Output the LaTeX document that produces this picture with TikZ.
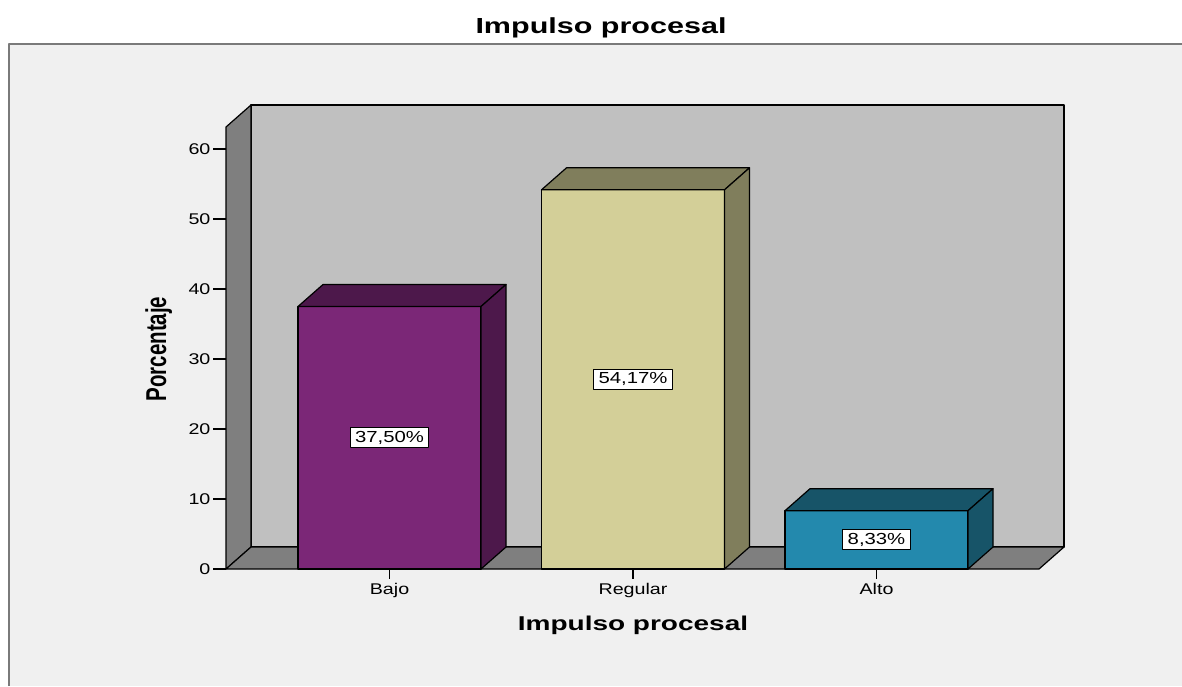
\documentclass[tikz,border=0pt]{standalone}
\usepackage{fontspec}
\setmainfont{Liberation Sans}[FakeStretch=1.4]
\newfontfamily\plainfont{Liberation Sans}
\newfontfamily\tickfont{Liberation Sans}[FakeStretch=1.27]
\definecolor{chartbg}{HTML}{F0F0F0}
\definecolor{frameline}{HTML}{7A7A7A}
\definecolor{wallback}{HTML}{C0C0C0}
\definecolor{wallside}{HTML}{7F7F7F}
\definecolor{bajofront}{HTML}{7B2777}
\definecolor{bajoside}{HTML}{4D184B}
\definecolor{regfront}{HTML}{D3CF98}
\definecolor{regside}{HTML}{807E5C}
\definecolor{altofront}{HTML}{2389AD}
\definecolor{altoside}{HTML}{175468}

\begin{document}
\begin{tikzpicture}[x=1pt, y=-1pt, line join=round, line width=1.2pt,
    every node/.style={font=\tickfont\fontsize{15.5}{17}\selectfont, inner sep=1pt},
    valbox/.style={draw=black, fill=white, line width=1pt, inner xsep=5pt, inner ysep=3.5pt,
        font=\tickfont\fontsize{16}{18}\selectfont}]
    \useasboundingbox (0,0) rectangle (1182,686);
    \fill[white] (0,0) rectangle (1182,686);
    \fill[chartbg] (9,44) rectangle (1182,686);
    \draw[frameline, line width=2pt] (9,686) -- (9,44) -- (1182,44);
    \node[anchor=base, font=\fontsize{21.8}{24}\selectfont\bfseries] (title) at (601,33) {Impulso procesal};
    \draw[fill=wallback] (251,105) rectangle (1064,547);
    \draw[fill=wallside] (226,569) -- (226,127) -- (251,105) -- (251,547) -- cycle;
    \draw[fill=wallside] (226,569) -- (251,547) -- (1064,547) -- (1039,569) -- cycle;
    \foreach \v in {0,10,...,60} {
        \draw (213,{569-7*\v}) -- (226,{569-7*\v});
        \node[anchor=east] (ylab\v) at (212,{569-7*\v}) {\v};
    }
    \foreach \x/\h/\front/\side/\val/\lab [count=\i] in
        {298/37.50/bajofront/bajoside/{37,50\%}/Bajo,
         541.5/54.17/regfront/regside/{54,17\%}/Regular,
         785/8.33/altofront/altoside/{8,33\%}/Alto} {
        \pgfmathsetmacro{\yt}{569-7*\h}
        \draw[fill=\front] (\x,\yt) rectangle ({\x+183},569);
        \draw[fill=\side] (\x,\yt) -- ({\x+25},{\yt-22}) -- ({\x+208},{\yt-22}) -- ({\x+183},\yt) -- cycle;
        \draw[fill=\side] ({\x+183},569) -- ({\x+183},\yt) -- ({\x+208},{\yt-22}) -- ({\x+208},547) -- cycle;
        \draw ({\x+91.5},569) -- ({\x+91.5},579);
        \node[anchor=base] (cat\i) at ({\x+91.5},594) {\lab};
        \node[valbox] (val\i) at ({\x+91.5},{(\yt+569)/2}) {\val};
    }
    \node[anchor=base, font=\fontsize{20}{24}\selectfont\bfseries] (xtitle) at (633,630) {Impulso procesal};
    \node[anchor=base, rotate=90] (ytitle) at (166,349)
        {\scalebox{1}[1.4]{\plainfont\fontsize{20.5}{24}\selectfont\bfseries Porcentaje}};
\end{tikzpicture}
\end{document}
